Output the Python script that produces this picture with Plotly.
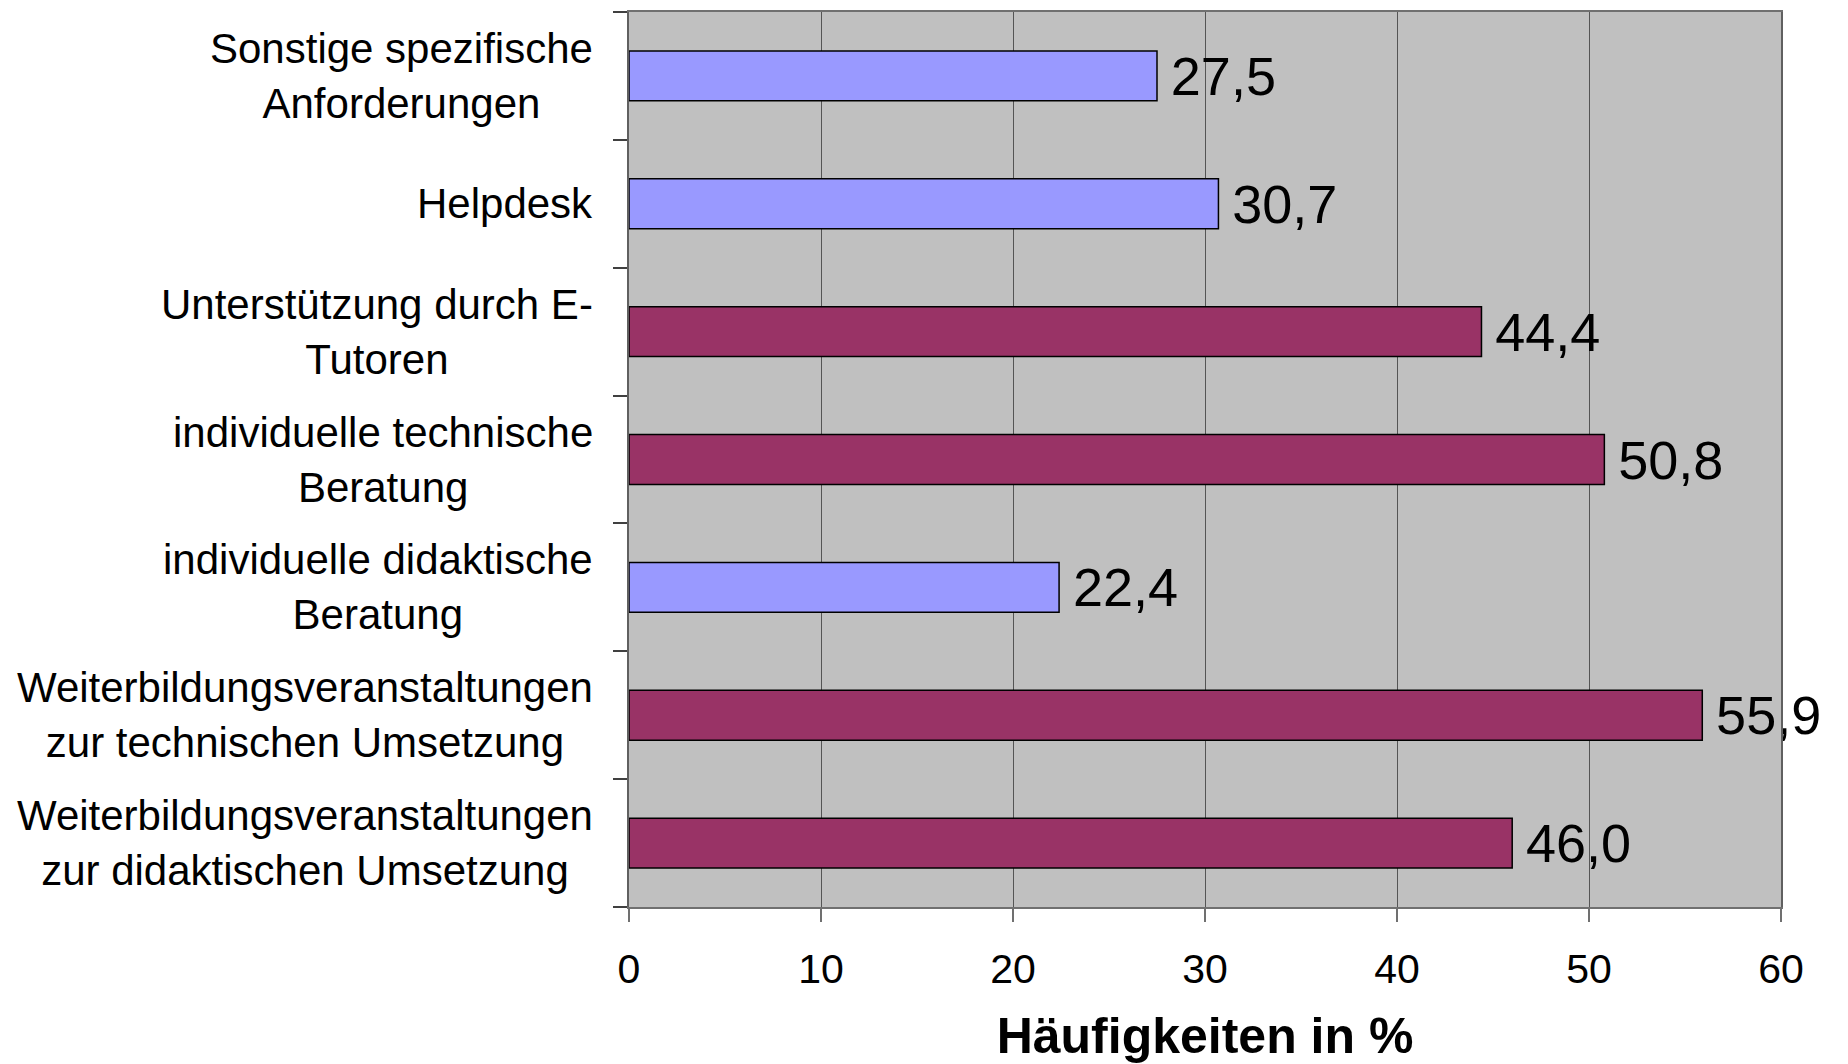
import plotly.graph_objects as go

categories = [
    "Weiterbildungsveranstaltungen<br>zur didaktischen Umsetzung",
    "Weiterbildungsveranstaltungen<br>zur technischen Umsetzung",
    "individuelle didaktische<br>Beratung",
    "individuelle technische<br>Beratung",
    "Unterstützung durch E-<br>Tutoren",
    "Helpdesk",
    "Sonstige spezifische<br>Anforderungen",
]
values = [46.0, 55.9, 22.4, 50.8, 44.4, 30.7, 27.5]
bar_colors = ["#993366", "#993366", "#9999FF", "#993366", "#993366", "#9999FF", "#9999FF"]
x_ticks = [0, 10, 20, 30, 40, 50, 60]

FONT = "Liberation Sans, Arial, Helvetica, sans-serif"

labels = ["\u2009" + f"{v:.1f}".replace(".", ",") for v in values]

fig = go.Figure()
fig.add_trace(go.Bar(
    y=list(range(len(categories))),
    x=values,
    orientation="h",
    marker=dict(color=bar_colors, line=dict(color="#000000", width=1.5)),
    width=0.39,
    text=labels,
    textposition="outside",
    textfont=dict(family=FONT, size=54, color="#000000"),
    constraintext="none",
    cliponaxis=False,
    hoverinfo="skip",
))

for i, c in enumerate(categories):
    fig.add_annotation(
        x=0, xref="paper", xanchor="right", xshift=-34,
        y=i, yref="y", yanchor="middle",
        text=c, align="center", showarrow=False,
        font=dict(family=FONT, size=42, color="#000000"),
    )

fig.update_layout(
    width=1840, height=1056,
    margin=dict(l=621, r=67, t=2, b=157),
    paper_bgcolor="#FFFFFF",
    plot_bgcolor="#C0C0C0",
    showlegend=False,
    font=dict(family=FONT, color="#000000"),
)

fig.update_xaxes(
    range=[0, 60],
    tickvals=x_ticks,
    ticktext=[str(t) for t in x_ticks],
    tickfont=dict(family=FONT, size=41, color="#000000"),
    ticks="outside", ticklen=13, tickwidth=1.5, tickcolor="#707070",
    ticklabelstandoff=12,
    showgrid=True, gridcolor="#555555", gridwidth=1,
    showline=True, linecolor="#707070", linewidth=2, mirror=True,
    zeroline=False,
    title=dict(text="<b>Häufigkeiten in %</b>", font=dict(family=FONT, size=50, color="#000000"), standoff=35),
)
fig.update_yaxes(
    type="category",
    range=[-0.5, 6.5],
    tickvals=list(range(len(categories))),
    showticklabels=False,
    tickson="boundaries",
    ticks="outside", ticklen=14, tickwidth=1.5, tickcolor="#404040",
    showgrid=False,
    showline=True, linecolor="#606060", linewidth=2, mirror=True,
    zeroline=False,
)

fig.write_html("out.html")
